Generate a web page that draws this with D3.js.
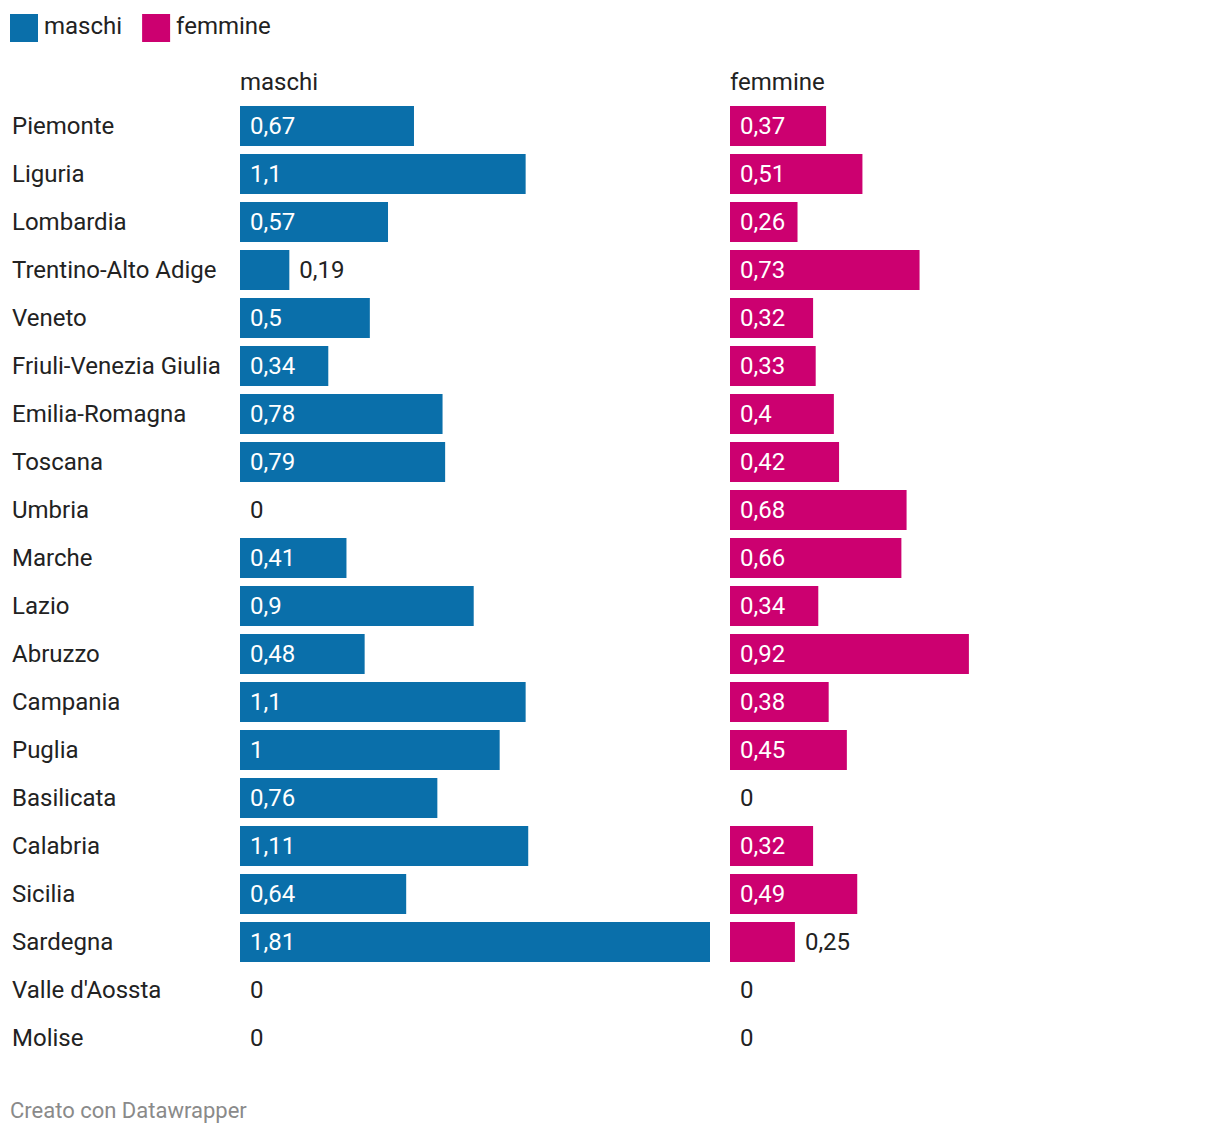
<!DOCTYPE html>
<html><head><meta charset="utf-8">
<script src="https://cdn.jsdelivr.net/npm/d3@7"></script>
<style>
body{margin:0;background:#fff;font-family:Roboto,sans-serif;}
</style></head>
<body>
<svg id="chart" width="1220" height="1136"></svg>
<script>
const regions = ["Piemonte","Liguria","Lombardia","Trentino-Alto Adige","Veneto","Friuli-Venezia Giulia","Emilia-Romagna","Toscana","Umbria","Marche","Lazio","Abruzzo","Campania","Puglia","Basilicata","Calabria","Sicilia","Sardegna","Valle d'Aossta","Molise"];
const maschi = [0.67,1.1,0.57,0.19,0.5,0.34,0.78,0.79,0,0.41,0.9,0.48,1.1,1,0.76,1.11,0.64,1.81,0,0];
const femmine = [0.37,0.51,0.26,0.73,0.32,0.33,0.4,0.42,0.68,0.66,0.34,0.92,0.38,0.45,0,0.32,0.49,0.25,0,0];
const seriesNames = ["maschi","femmine"];
const colors = ["#0a6faa","#cc0070"];

const svg = d3.select("#chart");
const FS = 24;
const fmt = v => String(v).replace(".", ",");

// legend
const leg = svg.append("g");
let lx = 10;
seriesNames.forEach((n,i)=>{
  leg.append("rect").attr("x",lx).attr("y",14).attr("width",28).attr("height",28).attr("fill",colors[i]);
  const t = leg.append("text").attr("x",lx+34).attr("y",34).attr("font-size",FS).attr("fill","#222").text(n);
  lx += 34 + t.node().getComputedTextLength() + 20;
});

const y = d3.scaleBand().domain(regions).range([102,1062]).paddingInner(1/6).paddingOuter(1/12);
const x = d3.scaleLinear().domain([0,1.81]).range([0,470]);
const colX = [240,730];

// row labels
svg.append("g").selectAll("text").data(regions).join("text")
  .attr("x",12).attr("y",d=>y(d)+y.bandwidth()/2).attr("dy","0.35em")
  .attr("font-size",FS).attr("fill","#222").text(d=>d);

[maschi,femmine].forEach((vals,si)=>{
  const g = svg.append("g").attr("transform",`translate(${colX[si]},0)`);
  g.append("text").attr("x",0).attr("y",90).attr("font-size",FS).attr("fill","#222").text(seriesNames[si]);
  regions.forEach((r,i)=>{
    const v = vals[i];
    const w = x(v);
    if (v>0) g.append("rect").attr("x",0).attr("y",y(r)).attr("width",w).attr("height",y.bandwidth()).attr("fill",colors[si]);
    const t = g.append("text").attr("y",y(r)+y.bandwidth()/2).attr("dy","0.35em").attr("font-size",FS).text(fmt(v));
    const tw = t.node().getComputedTextLength();
    if (v>0 && tw + 20 <= w) t.attr("x",10).attr("fill","#fff");
    else t.attr("x",w+10).attr("fill","#222");
  });
});

svg.append("text").attr("x",10).attr("y",1118).attr("font-size",22).attr("fill","#8a8a8a").text("Creato con Datawrapper");
</script>
</body></html>
